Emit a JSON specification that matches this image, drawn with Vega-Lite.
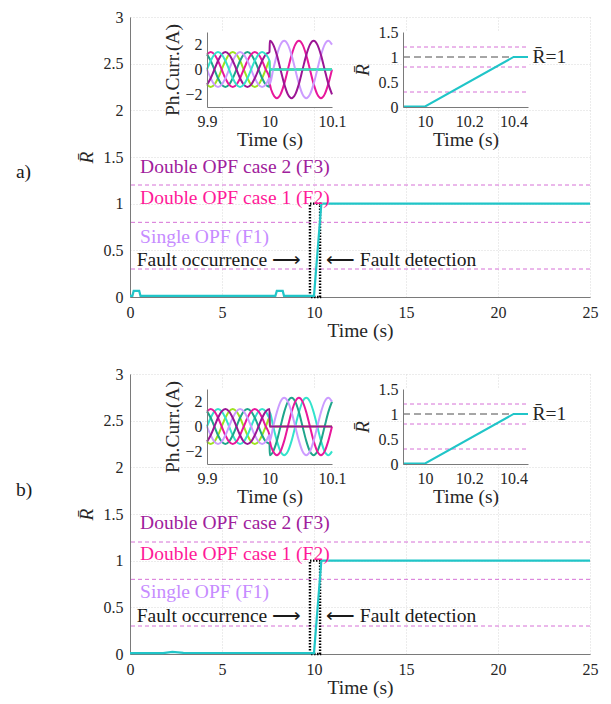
{
"$schema": "https://vega.github.io/schema/vega-lite/v6.json",
"padding": {"left": 15, "top": 9, "right": 5, "bottom": 5},
"spacing": 26,
"config": {
  "font": "Liberation Serif",
  "view": {"stroke": null},
  "axis": {"labelFont": "Liberation Serif", "labelFontSize": 16, "labelColor": "#262626", "titleFont": "Liberation Serif", "titleFontSize": 19.5, "titleFontWeight": "normal", "titleColor": "#262626", "domainColor": "#7a7a7a", "domainWidth": 1, "ticks": false, "gridColor": "#d9d9d9", "gridDash": [1, 2], "labelFlush": false, "labelOverlap": false},
  "text": {"font": "Liberation Serif"}
},
"datasets": {
  "curA": [
{"t":9.9,"p":"G","y":-1.21},{"t":9.9059,"p":"G","y":-1.4},{"t":9.9118,"p":"G","y":-1.21},{"t":9.9176,"p":"G","y":-0.7},{"t":9.9235,"p":"G","y":0},{"t":9.9294,"p":"G","y":0.7},{"t":9.9353,"p":"G","y":1.21},{"t":9.9412,"p":"G","y":1.4},{"t":9.9471,"p":"G","y":1.21},{"t":9.9529,"p":"G","y":0.7},{"t":9.9588,"p":"G","y":0},{"t":9.9647,"p":"G","y":-0.7},{"t":9.9706,"p":"G","y":-1.21},{"t":9.9765,"p":"G","y":-1.4},{"t":9.9824,"p":"G","y":-1.21},{"t":9.9882,"p":"G","y":-0.7},{"t":9.9941,"p":"G","y":0},{"t":10,"p":"G","y":0.7},{"t":10.0005,"p":"G","y":0},{"t":10.1,"p":"G","y":0},
{"t":9.9,"p":"T","y":1.21},{"t":9.9059,"p":"T","y":0.7},{"t":9.9118,"p":"T","y":0},{"t":9.9176,"p":"T","y":-0.7},{"t":9.9235,"p":"T","y":-1.21},{"t":9.9294,"p":"T","y":-1.4},{"t":9.9353,"p":"T","y":-1.21},{"t":9.9412,"p":"T","y":-0.7},{"t":9.9471,"p":"T","y":0},{"t":9.9529,"p":"T","y":0.7},{"t":9.9588,"p":"T","y":1.21},{"t":9.9647,"p":"T","y":1.4},{"t":9.9706,"p":"T","y":1.21},{"t":9.9765,"p":"T","y":0.7},{"t":9.9824,"p":"T","y":0},{"t":9.9882,"p":"T","y":-0.7},{"t":9.9941,"p":"T","y":-1.21},{"t":10,"p":"T","y":-1.4},{"t":10.0005,"p":"T","y":0},{"t":10.1,"p":"T","y":0},
{"t":9.9,"p":"K","y":1.21},{"t":9.9059,"p":"K","y":1.4},{"t":9.9118,"p":"K","y":1.21},{"t":9.9176,"p":"K","y":0.7},{"t":9.9235,"p":"K","y":0},{"t":9.9294,"p":"K","y":-0.7},{"t":9.9353,"p":"K","y":-1.21},{"t":9.9412,"p":"K","y":-1.4},{"t":9.9471,"p":"K","y":-1.21},{"t":9.9529,"p":"K","y":-0.7},{"t":9.9588,"p":"K","y":0},{"t":9.9647,"p":"K","y":0.7},{"t":9.9706,"p":"K","y":1.21},{"t":9.9765,"p":"K","y":1.4},{"t":9.9824,"p":"K","y":1.21},{"t":9.9882,"p":"K","y":0.7},{"t":9.9941,"p":"K","y":0},{"t":10,"p":"K","y":-0.7},
{"t":10.0005,"p":"K","y":-1.15},{"t":10.0059,"p":"K","y":-1.99},{"t":10.0118,"p":"K","y":-2.3},{"t":10.0176,"p":"K","y":-1.99},{"t":10.0235,"p":"K","y":-1.15},{"t":10.0294,"p":"K","y":0},{"t":10.0353,"p":"K","y":1.15},{"t":10.0412,"p":"K","y":1.99},{"t":10.0471,"p":"K","y":2.3},{"t":10.0529,"p":"K","y":1.99},{"t":10.0588,"p":"K","y":1.15},{"t":10.0647,"p":"K","y":0},{"t":10.0706,"p":"K","y":-1.15},{"t":10.0765,"p":"K","y":-1.99},{"t":10.0824,"p":"K","y":-2.3},{"t":10.0882,"p":"K","y":-1.99},{"t":10.0941,"p":"K","y":-1.15},{"t":10.1,"p":"K","y":0},
{"t":9.9,"p":"L","y":0},{"t":9.9059,"p":"L","y":-0.7},{"t":9.9118,"p":"L","y":-1.21},{"t":9.9176,"p":"L","y":-1.4},{"t":9.9235,"p":"L","y":-1.21},{"t":9.9294,"p":"L","y":-0.7},{"t":9.9353,"p":"L","y":0},{"t":9.9412,"p":"L","y":0.7},{"t":9.9471,"p":"L","y":1.21},{"t":9.9529,"p":"L","y":1.4},{"t":9.9588,"p":"L","y":1.21},{"t":9.9647,"p":"L","y":0.7},{"t":9.9706,"p":"L","y":0},{"t":9.9765,"p":"L","y":-0.7},{"t":9.9824,"p":"L","y":-1.21},{"t":9.9882,"p":"L","y":-1.4},{"t":9.9941,"p":"L","y":-1.21},{"t":10,"p":"L","y":-0.7},
{"t":10.0005,"p":"L","y":-1.15},{"t":10.0059,"p":"L","y":0},{"t":10.0118,"p":"L","y":1.15},{"t":10.0176,"p":"L","y":1.99},{"t":10.0235,"p":"L","y":2.3},{"t":10.0294,"p":"L","y":1.99},{"t":10.0353,"p":"L","y":1.15},{"t":10.0412,"p":"L","y":0},{"t":10.0471,"p":"L","y":-1.15},{"t":10.0529,"p":"L","y":-1.99},{"t":10.0588,"p":"L","y":-2.3},{"t":10.0647,"p":"L","y":-1.99},{"t":10.0706,"p":"L","y":-1.15},{"t":10.0765,"p":"L","y":0},{"t":10.0824,"p":"L","y":1.15},{"t":10.0882,"p":"L","y":1.99},{"t":10.0941,"p":"L","y":2.3},{"t":10.1,"p":"L","y":1.99},
{"t":9.9,"p":"P","y":-1.21},{"t":9.9059,"p":"P","y":-0.7},{"t":9.9118,"p":"P","y":0},{"t":9.9176,"p":"P","y":0.7},{"t":9.9235,"p":"P","y":1.21},{"t":9.9294,"p":"P","y":1.4},{"t":9.9353,"p":"P","y":1.21},{"t":9.9412,"p":"P","y":0.7},{"t":9.9471,"p":"P","y":0},{"t":9.9529,"p":"P","y":-0.7},{"t":9.9588,"p":"P","y":-1.21},{"t":9.9647,"p":"P","y":-1.4},{"t":9.9706,"p":"P","y":-1.21},{"t":9.9765,"p":"P","y":-0.7},{"t":9.9824,"p":"P","y":0},{"t":9.9882,"p":"P","y":0.7},{"t":9.9941,"p":"P","y":1.21},{"t":10,"p":"P","y":1.4},
{"t":10.0005,"p":"P","y":2.3},{"t":10.0059,"p":"P","y":1.99},{"t":10.0118,"p":"P","y":1.15},{"t":10.0176,"p":"P","y":0},{"t":10.0235,"p":"P","y":-1.15},{"t":10.0294,"p":"P","y":-1.99},{"t":10.0353,"p":"P","y":-2.3},{"t":10.0412,"p":"P","y":-1.99},{"t":10.0471,"p":"P","y":-1.15},{"t":10.0529,"p":"P","y":0},{"t":10.0588,"p":"P","y":1.15},{"t":10.0647,"p":"P","y":1.99},{"t":10.0706,"p":"P","y":2.3},{"t":10.0765,"p":"P","y":1.99},{"t":10.0824,"p":"P","y":1.15},{"t":10.0882,"p":"P","y":0},{"t":10.0941,"p":"P","y":-1.15},{"t":10.1,"p":"P","y":-1.99},
{"t":9.9,"p":"A","y":0},{"t":9.9059,"p":"A","y":0.7},{"t":9.9118,"p":"A","y":1.21},{"t":9.9176,"p":"A","y":1.4},{"t":9.9235,"p":"A","y":1.21},{"t":9.9294,"p":"A","y":0.7},{"t":9.9353,"p":"A","y":0},{"t":9.9412,"p":"A","y":-0.7},{"t":9.9471,"p":"A","y":-1.21},{"t":9.9529,"p":"A","y":-1.4},{"t":9.9588,"p":"A","y":-1.21},{"t":9.9647,"p":"A","y":-0.7},{"t":9.9706,"p":"A","y":0},{"t":9.9765,"p":"A","y":0.7},{"t":9.9824,"p":"A","y":1.21},{"t":9.9882,"p":"A","y":1.4},{"t":9.9941,"p":"A","y":1.21},{"t":10,"p":"A","y":0.7},{"t":10.0005,"p":"A","y":0},{"t":10.1,"p":"A","y":0}
  ],
  "curB": [
{"t":9.9,"p":"G","y":-1.21},{"t":9.9059,"p":"G","y":-1.4},{"t":9.9118,"p":"G","y":-1.21},{"t":9.9176,"p":"G","y":-0.7},{"t":9.9235,"p":"G","y":0},{"t":9.9294,"p":"G","y":0.7},{"t":9.9353,"p":"G","y":1.21},{"t":9.9412,"p":"G","y":1.4},{"t":9.9471,"p":"G","y":1.21},{"t":9.9529,"p":"G","y":0.7},{"t":9.9588,"p":"G","y":0},{"t":9.9647,"p":"G","y":-0.7},{"t":9.9706,"p":"G","y":-1.21},{"t":9.9765,"p":"G","y":-1.4},{"t":9.9824,"p":"G","y":-1.21},{"t":9.9882,"p":"G","y":-0.7},{"t":9.9941,"p":"G","y":0},{"t":10,"p":"G","y":0.7},{"t":10.0005,"p":"G","y":0},{"t":10.1,"p":"G","y":0},
{"t":9.9,"p":"A","y":0},{"t":9.9059,"p":"A","y":0.7},{"t":9.9118,"p":"A","y":1.21},{"t":9.9176,"p":"A","y":1.4},{"t":9.9235,"p":"A","y":1.21},{"t":9.9294,"p":"A","y":0.7},{"t":9.9353,"p":"A","y":0},{"t":9.9412,"p":"A","y":-0.7},{"t":9.9471,"p":"A","y":-1.21},{"t":9.9529,"p":"A","y":-1.4},{"t":9.9588,"p":"A","y":-1.21},{"t":9.9647,"p":"A","y":-0.7},{"t":9.9706,"p":"A","y":0},{"t":9.9765,"p":"A","y":0.7},{"t":9.9824,"p":"A","y":1.21},{"t":9.9882,"p":"A","y":1.4},{"t":9.9941,"p":"A","y":1.21},{"t":10,"p":"A","y":0.7},
{"t":10.0005,"p":"A","y":1.15},{"t":10.0059,"p":"A","y":0},{"t":10.0118,"p":"A","y":-1.15},{"t":10.0176,"p":"A","y":-1.99},{"t":10.0235,"p":"A","y":-2.3},{"t":10.0294,"p":"A","y":-1.99},{"t":10.0353,"p":"A","y":-1.15},{"t":10.0412,"p":"A","y":0},{"t":10.0471,"p":"A","y":1.15},{"t":10.0529,"p":"A","y":1.99},{"t":10.0588,"p":"A","y":2.3},{"t":10.0647,"p":"A","y":1.99},{"t":10.0706,"p":"A","y":1.15},{"t":10.0765,"p":"A","y":0},{"t":10.0824,"p":"A","y":-1.15},{"t":10.0882,"p":"A","y":-1.99},{"t":10.0941,"p":"A","y":-2.3},{"t":10.1,"p":"A","y":-1.99},
{"t":9.9,"p":"T","y":1.21},{"t":9.9059,"p":"T","y":0.7},{"t":9.9118,"p":"T","y":0},{"t":9.9176,"p":"T","y":-0.7},{"t":9.9235,"p":"T","y":-1.21},{"t":9.9294,"p":"T","y":-1.4},{"t":9.9353,"p":"T","y":-1.21},{"t":9.9412,"p":"T","y":-0.7},{"t":9.9471,"p":"T","y":0},{"t":9.9529,"p":"T","y":0.7},{"t":9.9588,"p":"T","y":1.21},{"t":9.9647,"p":"T","y":1.4},{"t":9.9706,"p":"T","y":1.21},{"t":9.9765,"p":"T","y":0.7},{"t":9.9824,"p":"T","y":0},{"t":9.9882,"p":"T","y":-0.7},{"t":9.9941,"p":"T","y":-1.21},{"t":10,"p":"T","y":-1.4},
{"t":10.0005,"p":"T","y":-2.3},{"t":10.0059,"p":"T","y":-1.99},{"t":10.0118,"p":"T","y":-1.15},{"t":10.0176,"p":"T","y":0},{"t":10.0235,"p":"T","y":1.15},{"t":10.0294,"p":"T","y":1.99},{"t":10.0353,"p":"T","y":2.3},{"t":10.0412,"p":"T","y":1.99},{"t":10.0471,"p":"T","y":1.15},{"t":10.0529,"p":"T","y":0},{"t":10.0588,"p":"T","y":-1.15},{"t":10.0647,"p":"T","y":-1.99},{"t":10.0706,"p":"T","y":-2.3},{"t":10.0765,"p":"T","y":-1.99},{"t":10.0824,"p":"T","y":-1.15},{"t":10.0882,"p":"T","y":0},{"t":10.0941,"p":"T","y":1.15},{"t":10.1,"p":"T","y":1.99},
{"t":9.9,"p":"K","y":1.21},{"t":9.9059,"p":"K","y":1.4},{"t":9.9118,"p":"K","y":1.21},{"t":9.9176,"p":"K","y":0.7},{"t":9.9235,"p":"K","y":0},{"t":9.9294,"p":"K","y":-0.7},{"t":9.9353,"p":"K","y":-1.21},{"t":9.9412,"p":"K","y":-1.4},{"t":9.9471,"p":"K","y":-1.21},{"t":9.9529,"p":"K","y":-0.7},{"t":9.9588,"p":"K","y":0},{"t":9.9647,"p":"K","y":0.7},{"t":9.9706,"p":"K","y":1.21},{"t":9.9765,"p":"K","y":1.4},{"t":9.9824,"p":"K","y":1.21},{"t":9.9882,"p":"K","y":0.7},{"t":9.9941,"p":"K","y":0},{"t":10,"p":"K","y":-0.7},
{"t":10.0005,"p":"K","y":-1.15},{"t":10.0059,"p":"K","y":-1.99},{"t":10.0118,"p":"K","y":-2.3},{"t":10.0176,"p":"K","y":-1.99},{"t":10.0235,"p":"K","y":-1.15},{"t":10.0294,"p":"K","y":0},{"t":10.0353,"p":"K","y":1.15},{"t":10.0412,"p":"K","y":1.99},{"t":10.0471,"p":"K","y":2.3},{"t":10.0529,"p":"K","y":1.99},{"t":10.0588,"p":"K","y":1.15},{"t":10.0647,"p":"K","y":0},{"t":10.0706,"p":"K","y":-1.15},{"t":10.0765,"p":"K","y":-1.99},{"t":10.0824,"p":"K","y":-2.3},{"t":10.0882,"p":"K","y":-1.99},{"t":10.0941,"p":"K","y":-1.15},{"t":10.1,"p":"K","y":0},
{"t":9.9,"p":"L","y":0},{"t":9.9059,"p":"L","y":-0.7},{"t":9.9118,"p":"L","y":-1.21},{"t":9.9176,"p":"L","y":-1.4},{"t":9.9235,"p":"L","y":-1.21},{"t":9.9294,"p":"L","y":-0.7},{"t":9.9353,"p":"L","y":0},{"t":9.9412,"p":"L","y":0.7},{"t":9.9471,"p":"L","y":1.21},{"t":9.9529,"p":"L","y":1.4},{"t":9.9588,"p":"L","y":1.21},{"t":9.9647,"p":"L","y":0.7},{"t":9.9706,"p":"L","y":0},{"t":9.9765,"p":"L","y":-0.7},{"t":9.9824,"p":"L","y":-1.21},{"t":9.9882,"p":"L","y":-1.4},{"t":9.9941,"p":"L","y":-1.21},{"t":10,"p":"L","y":-0.7},
{"t":10.0005,"p":"L","y":-1.15},{"t":10.0059,"p":"L","y":0},{"t":10.0118,"p":"L","y":1.15},{"t":10.0176,"p":"L","y":1.99},{"t":10.0235,"p":"L","y":2.3},{"t":10.0294,"p":"L","y":1.99},{"t":10.0353,"p":"L","y":1.15},{"t":10.0412,"p":"L","y":0},{"t":10.0471,"p":"L","y":-1.15},{"t":10.0529,"p":"L","y":-1.99},{"t":10.0588,"p":"L","y":-2.3},{"t":10.0647,"p":"L","y":-1.99},{"t":10.0706,"p":"L","y":-1.15},{"t":10.0765,"p":"L","y":0},{"t":10.0824,"p":"L","y":1.15},{"t":10.0882,"p":"L","y":1.99},{"t":10.0941,"p":"L","y":2.3},{"t":10.1,"p":"L","y":1.99},
{"t":9.9,"p":"P","y":-1.21},{"t":9.9059,"p":"P","y":-0.7},{"t":9.9118,"p":"P","y":0},{"t":9.9176,"p":"P","y":0.7},{"t":9.9235,"p":"P","y":1.21},{"t":9.9294,"p":"P","y":1.4},{"t":9.9353,"p":"P","y":1.21},{"t":9.9412,"p":"P","y":0.7},{"t":9.9471,"p":"P","y":0},{"t":9.9529,"p":"P","y":-0.7},{"t":9.9588,"p":"P","y":-1.21},{"t":9.9647,"p":"P","y":-1.4},{"t":9.9706,"p":"P","y":-1.21},{"t":9.9765,"p":"P","y":-0.7},{"t":9.9824,"p":"P","y":0},{"t":9.9882,"p":"P","y":0.7},{"t":9.9941,"p":"P","y":1.21},{"t":10,"p":"P","y":1.4},{"t":10.0005,"p":"P","y":0},{"t":10.1,"p":"P","y":0}
  ]
},
"vconcat": [
 {
  "width": 460, "height": 280,
  "resolve": {"scale": {"x": "independent", "y": "independent", "color": "independent"}},
  "layer": [
   {"layer": [
     {"data": {"values": [{"y": 1.2}, {"y": 0.8}, {"y": 0.3}]},
      "mark": {"type": "rule", "color": "#d670d6", "strokeDash": [4, 3], "strokeWidth": 1},
      "encoding": {"y": {"field": "y", "type": "quantitative", "scale": {"domain": [0, 3], "nice": false}, "axis": {"title": "R\u0304", "values": [0, 0.5, 1, 1.5, 2, 2.5, 3], "format": "~g", "grid": true, "labelPadding": 7, "titlePadding": 7, "titleFontStyle": "italic"}}}},
     {"data": {"values": [{"t": 9.78, "t2": 10.33, "y": 0, "y2": 1}]},
      "mark": {"type": "rect", "filled": false, "color": "#000000", "strokeWidth": 2.4, "strokeDash": [1.5, 1.5]},
      "encoding": {
        "x": {"field": "t", "type": "quantitative", "scale": {"domain": [0, 25], "nice": false}, "axis": {"title": "Time (s)", "values": [0, 5, 10, 15, 20, 25], "format": "~g", "grid": true, "labelPadding": 7, "titlePadding": 1}},
        "x2": {"field": "t2"},
        "y": {"field": "y", "type": "quantitative", "scale": {"domain": [0, 3], "nice": false}, "axis": {"title": "R\u0304", "values": [0, 0.5, 1, 1.5, 2, 2.5, 3], "format": "~g", "grid": true, "labelPadding": 7, "titlePadding": 7, "titleFontStyle": "italic"}},
        "y2": {"field": "y2"}}},
     {"data": {"values": [{"t": 0, "y": 0.012}, {"t": 0.13, "y": 0.012}, {"t": 0.2, "y": 0.065}, {"t": 0.5, "y": 0.065}, {"t": 0.57, "y": 0.012}, {"t": 7.9, "y": 0.012}, {"t": 7.98, "y": 0.065}, {"t": 8.3, "y": 0.065}, {"t": 8.37, "y": 0.012}, {"t": 10, "y": 0.012}, {"t": 10.4, "y": 1}, {"t": 25, "y": 1}]},
      "mark": {"type": "line", "color": "#20c5c8", "strokeWidth": 2.2},
      "encoding": {
        "x": {"field": "t", "type": "quantitative", "scale": {"domain": [0, 25], "nice": false}, "axis": {"title": "Time (s)", "values": [0, 5, 10, 15, 20, 25], "format": "~g", "grid": true, "labelPadding": 7, "titlePadding": 1}},
        "y": {"field": "y", "type": "quantitative", "scale": {"domain": [0, 3], "nice": false}, "axis": {"title": "R\u0304", "values": [0, 0.5, 1, 1.5, 2, 2.5, 3], "format": "~g", "grid": true, "labelPadding": 7, "titlePadding": 7, "titleFontStyle": "italic"}}}},
     {"data": {"values": [{"t": 0.55, "y": 1.39, "s": "Double OPF case 2 (F3)", "k": "F3"}, {"t": 0.55, "y": 1.06, "s": "Double OPF case 1 (F2)", "k": "F2"}, {"t": 0.55, "y": 0.645, "s": "Single OPF (F1)", "k": "F1"}, {"t": 10.65, "y": 0.4, "s": "\u27f5 Fault detection", "k": "K"}, {"t": -6.2, "y": 1.34, "s": "a)", "k": "K"}]},
      "mark": {"type": "text", "align": "left", "baseline": "middle", "fontSize": 19.5},
      "encoding": {
        "x": {"field": "t", "type": "quantitative", "scale": {"domain": [0, 25], "nice": false}, "axis": {"title": "Time (s)", "values": [0, 5, 10, 15, 20, 25], "format": "~g", "grid": true, "labelPadding": 7, "titlePadding": 1}},
        "y": {"field": "y", "type": "quantitative", "scale": {"domain": [0, 3], "nice": false}, "axis": {"title": "R\u0304", "values": [0, 0.5, 1, 1.5, 2, 2.5, 3], "format": "~g", "grid": true, "labelPadding": 7, "titlePadding": 7, "titleFontStyle": "italic"}},
        "text": {"field": "s"},
        "color": {"field": "k", "type": "nominal", "scale": {"domain": ["F3", "F2", "F1", "K"], "range": ["#a0209c", "#ff1a98", "#c68cff", "#1a1a1a"]}, "legend": null}}},
     {"data": {"values": [{"t": 9.3, "y": 0.4, "s": "Fault occurrence \u27f6", "k": "K"}]},
      "mark": {"type": "text", "align": "right", "baseline": "middle", "fontSize": 19.5},
      "encoding": {
        "x": {"field": "t", "type": "quantitative", "scale": {"domain": [0, 25], "nice": false}, "axis": {"title": "Time (s)", "values": [0, 5, 10, 15, 20, 25], "format": "~g", "grid": true, "labelPadding": 7, "titlePadding": 1}},
        "y": {"field": "y", "type": "quantitative", "scale": {"domain": [0, 3], "nice": false}, "axis": {"title": "R\u0304", "values": [0, 0.5, 1, 1.5, 2, 2.5, 3], "format": "~g", "grid": true, "labelPadding": 7, "titlePadding": 7, "titleFontStyle": "italic"}},
        "text": {"field": "s"},
        "color": {"field": "k", "type": "nominal", "scale": {"domain": ["F3", "F2", "F1", "K"], "range": ["#a0209c", "#ff1a98", "#c68cff", "#1a1a1a"]}, "legend": null}}}
   ]},
   {"layer": [
     {"data": {"values": [{"t": 9.9, "t2": 10.1, "y": -3, "y2": 3}]},
      "mark": {"type": "rect", "color": "#ffffff"},
      "encoding": {
        "x": {"field": "t", "type": "quantitative", "scale": {"domain": [9.9, 10.1], "range": [77, 202], "nice": false, "zero": false}, "axis": {"title": "Time (s)", "values": [9.9, 10, 10.1], "format": "~g", "orient": "bottom", "offset": -190, "zindex": 1, "grid": false, "labelPadding": 6, "titlePadding": 1}},
        "x2": {"field": "t2"},
        "y": {"field": "y", "type": "quantitative", "scale": {"domain": [-3, 3], "range": [90, 15], "nice": false, "zero": false}, "axis": {"title": "Ph.Curr.(A)", "values": [-2, 0, 2], "format": "~g", "orient": "left", "offset": -77, "zindex": 1, "grid": false, "labelPadding": 5, "titlePadding": 2}},
        "y2": {"field": "y2"}}},
     {"data": {"name": "curA"},
      "mark": {"type": "line", "strokeWidth": 2, "interpolate": "monotone"},
      "encoding": {
        "x": {"field": "t", "type": "quantitative", "scale": {"domain": [9.9, 10.1], "range": [77, 202], "nice": false, "zero": false}, "axis": {"title": "Time (s)", "values": [9.9, 10, 10.1], "format": "~g", "orient": "bottom", "offset": -190, "zindex": 1, "grid": false, "labelPadding": 6, "titlePadding": 1}},
        "y": {"field": "y", "type": "quantitative", "scale": {"domain": [-3, 3], "range": [90, 15], "nice": false, "zero": false}, "axis": {"title": "Ph.Curr.(A)", "values": [-2, 0, 2], "format": "~g", "orient": "left", "offset": -77, "zindex": 1, "grid": false, "labelPadding": 5, "titlePadding": 2}},
        "color": {"field": "p", "type": "nominal", "scale": {"domain": ["G", "T", "K", "L", "P", "A"], "range": ["#9ee31f", "#1fa58b", "#e8179b", "#cc9cff", "#9b1694", "#33e3cc"]}, "legend": null}}}
   ]},
   {"layer": [
     {"data": {"values": [{"t": 9.9, "t2": 10.465, "y": 0, "y2": 1.5}]},
      "mark": {"type": "rect", "color": "#ffffff"},
      "encoding": {
        "x": {"field": "t", "type": "quantitative", "scale": {"domain": [9.9, 10.465], "range": [273, 398], "nice": false, "zero": false}, "axis": {"title": "Time (s)", "values": [10, 10.2, 10.4], "format": "~g", "orient": "bottom", "offset": -190, "zindex": 1, "grid": false, "labelPadding": 6, "titlePadding": 1}},
        "x2": {"field": "t2"},
        "y": {"field": "y", "type": "quantitative", "scale": {"domain": [0, 1.5], "range": [90, 15], "nice": false, "zero": false}, "axis": {"title": "R\u0304", "titleFontStyle": "italic", "values": [0, 0.5, 1, 1.5], "format": "~g", "orient": "left", "offset": -273, "zindex": 1, "grid": false, "labelPadding": 5, "titlePadding": 6}},
        "y2": {"field": "y2"}}},
     {"data": {"values": [{"t": 9.9, "t2": 10.465, "y": 1.2}, {"t": 9.9, "t2": 10.465, "y": 0.8}, {"t": 9.9, "t2": 10.465, "y": 0.3}]},
      "mark": {"type": "rule", "color": "#d670d6", "strokeDash": [4, 3], "strokeWidth": 1},
      "encoding": {
        "x": {"field": "t", "type": "quantitative", "scale": {"domain": [9.9, 10.465], "range": [273, 398], "nice": false, "zero": false}, "axis": {"title": "Time (s)", "values": [10, 10.2, 10.4], "format": "~g", "orient": "bottom", "offset": -190, "zindex": 1, "grid": false, "labelPadding": 6, "titlePadding": 1}},
        "x2": {"field": "t2"},
        "y": {"field": "y", "type": "quantitative", "scale": {"domain": [0, 1.5], "range": [90, 15], "nice": false, "zero": false}, "axis": {"title": "R\u0304", "titleFontStyle": "italic", "values": [0, 0.5, 1, 1.5], "format": "~g", "orient": "left", "offset": -273, "zindex": 1, "grid": false, "labelPadding": 5, "titlePadding": 6}}}},
     {"data": {"values": [{"t": 9.9, "t2": 10.465, "y": 1}]},
      "mark": {"type": "rule", "color": "#4d4d4d", "strokeDash": [7, 4], "strokeWidth": 1},
      "encoding": {
        "x": {"field": "t", "type": "quantitative", "scale": {"domain": [9.9, 10.465], "range": [273, 398], "nice": false, "zero": false}, "axis": {"title": "Time (s)", "values": [10, 10.2, 10.4], "format": "~g", "orient": "bottom", "offset": -190, "zindex": 1, "grid": false, "labelPadding": 6, "titlePadding": 1}},
        "x2": {"field": "t2"},
        "y": {"field": "y", "type": "quantitative", "scale": {"domain": [0, 1.5], "range": [90, 15], "nice": false, "zero": false}, "axis": {"title": "R\u0304", "titleFontStyle": "italic", "values": [0, 0.5, 1, 1.5], "format": "~g", "orient": "left", "offset": -273, "zindex": 1, "grid": false, "labelPadding": 5, "titlePadding": 6}}}},
     {"data": {"values": [{"t": 9.9, "y": 0.012}, {"t": 10, "y": 0.012}, {"t": 10.4, "y": 1}, {"t": 10.465, "y": 1}]},
      "mark": {"type": "line", "color": "#20c5c8", "strokeWidth": 2},
      "encoding": {
        "x": {"field": "t", "type": "quantitative", "scale": {"domain": [9.9, 10.465], "range": [273, 398], "nice": false, "zero": false}, "axis": {"title": "Time (s)", "values": [10, 10.2, 10.4], "format": "~g", "orient": "bottom", "offset": -190, "zindex": 1, "grid": false, "labelPadding": 6, "titlePadding": 1}},
        "y": {"field": "y", "type": "quantitative", "scale": {"domain": [0, 1.5], "range": [90, 15], "nice": false, "zero": false}, "axis": {"title": "R\u0304", "titleFontStyle": "italic", "values": [0, 0.5, 1, 1.5], "format": "~g", "orient": "left", "offset": -273, "zindex": 1, "grid": false, "labelPadding": 5, "titlePadding": 6}}}},
     {"data": {"values": [{"t": 10.485, "y": 1, "s": "R\u0304=1"}]},
      "mark": {"type": "text", "align": "left", "baseline": "middle", "fontSize": 19.5, "color": "#262626"},
      "encoding": {
        "x": {"field": "t", "type": "quantitative", "scale": {"domain": [9.9, 10.465], "range": [273, 398], "nice": false, "zero": false}, "axis": {"title": "Time (s)", "values": [10, 10.2, 10.4], "format": "~g", "orient": "bottom", "offset": -190, "zindex": 1, "grid": false, "labelPadding": 6, "titlePadding": 1}},
        "y": {"field": "y", "type": "quantitative", "scale": {"domain": [0, 1.5], "range": [90, 15], "nice": false, "zero": false}, "axis": {"title": "R\u0304", "titleFontStyle": "italic", "values": [0, 0.5, 1, 1.5], "format": "~g", "orient": "left", "offset": -273, "zindex": 1, "grid": false, "labelPadding": 5, "titlePadding": 6}},
        "text": {"field": "s"}}}
   ]}
  ]
 },
 {
  "width": 460, "height": 280,
  "resolve": {"scale": {"x": "independent", "y": "independent", "color": "independent"}},
  "layer": [
   {"layer": [
     {"data": {"values": [{"y": 1.2}, {"y": 0.8}, {"y": 0.3}]},
      "mark": {"type": "rule", "color": "#d670d6", "strokeDash": [4, 3], "strokeWidth": 1},
      "encoding": {"y": {"field": "y", "type": "quantitative", "scale": {"domain": [0, 3], "nice": false}, "axis": {"title": "R\u0304", "values": [0, 0.5, 1, 1.5, 2, 2.5, 3], "format": "~g", "grid": true, "labelPadding": 7, "titlePadding": 7, "titleFontStyle": "italic"}}}},
     {"data": {"values": [{"t": 9.78, "t2": 10.33, "y": 0, "y2": 1}]},
      "mark": {"type": "rect", "filled": false, "color": "#000000", "strokeWidth": 2.4, "strokeDash": [1.5, 1.5]},
      "encoding": {
        "x": {"field": "t", "type": "quantitative", "scale": {"domain": [0, 25], "nice": false}, "axis": {"title": "Time (s)", "values": [0, 5, 10, 15, 20, 25], "format": "~g", "grid": true, "labelPadding": 7, "titlePadding": 1}},
        "x2": {"field": "t2"},
        "y": {"field": "y", "type": "quantitative", "scale": {"domain": [0, 3], "nice": false}, "axis": {"title": "R\u0304", "values": [0, 0.5, 1, 1.5, 2, 2.5, 3], "format": "~g", "grid": true, "labelPadding": 7, "titlePadding": 7, "titleFontStyle": "italic"}},
        "y2": {"field": "y2"}}},
     {"data": {"values": [{"t": 0, "y": 0.01}, {"t": 1.8, "y": 0.01}, {"t": 2.3, "y": 0.022}, {"t": 2.9, "y": 0.012}, {"t": 10, "y": 0.01}, {"t": 10.4, "y": 1}, {"t": 25, "y": 1}]},
      "mark": {"type": "line", "color": "#20c5c8", "strokeWidth": 2.2},
      "encoding": {
        "x": {"field": "t", "type": "quantitative", "scale": {"domain": [0, 25], "nice": false}, "axis": {"title": "Time (s)", "values": [0, 5, 10, 15, 20, 25], "format": "~g", "grid": true, "labelPadding": 7, "titlePadding": 1}},
        "y": {"field": "y", "type": "quantitative", "scale": {"domain": [0, 3], "nice": false}, "axis": {"title": "R\u0304", "values": [0, 0.5, 1, 1.5, 2, 2.5, 3], "format": "~g", "grid": true, "labelPadding": 7, "titlePadding": 7, "titleFontStyle": "italic"}}}},
     {"data": {"values": [{"t": 0.55, "y": 1.4, "s": "Double OPF case 2 (F3)", "k": "F3"}, {"t": 0.55, "y": 1.07, "s": "Double OPF case 1 (F2)", "k": "F2"}, {"t": 0.55, "y": 0.66, "s": "Single OPF (F1)", "k": "F1"}, {"t": 10.65, "y": 0.41, "s": "\u27f5 Fault detection", "k": "K"}, {"t": -6.2, "y": 1.76, "s": "b)", "k": "K"}]},
      "mark": {"type": "text", "align": "left", "baseline": "middle", "fontSize": 19.5},
      "encoding": {
        "x": {"field": "t", "type": "quantitative", "scale": {"domain": [0, 25], "nice": false}, "axis": {"title": "Time (s)", "values": [0, 5, 10, 15, 20, 25], "format": "~g", "grid": true, "labelPadding": 7, "titlePadding": 1}},
        "y": {"field": "y", "type": "quantitative", "scale": {"domain": [0, 3], "nice": false}, "axis": {"title": "R\u0304", "values": [0, 0.5, 1, 1.5, 2, 2.5, 3], "format": "~g", "grid": true, "labelPadding": 7, "titlePadding": 7, "titleFontStyle": "italic"}},
        "text": {"field": "s"},
        "color": {"field": "k", "type": "nominal", "scale": {"domain": ["F3", "F2", "F1", "K"], "range": ["#a0209c", "#ff1a98", "#c68cff", "#1a1a1a"]}, "legend": null}}},
     {"data": {"values": [{"t": 9.3, "y": 0.41, "s": "Fault occurrence \u27f6", "k": "K"}]},
      "mark": {"type": "text", "align": "right", "baseline": "middle", "fontSize": 19.5},
      "encoding": {
        "x": {"field": "t", "type": "quantitative", "scale": {"domain": [0, 25], "nice": false}, "axis": {"title": "Time (s)", "values": [0, 5, 10, 15, 20, 25], "format": "~g", "grid": true, "labelPadding": 7, "titlePadding": 1}},
        "y": {"field": "y", "type": "quantitative", "scale": {"domain": [0, 3], "nice": false}, "axis": {"title": "R\u0304", "values": [0, 0.5, 1, 1.5, 2, 2.5, 3], "format": "~g", "grid": true, "labelPadding": 7, "titlePadding": 7, "titleFontStyle": "italic"}},
        "text": {"field": "s"},
        "color": {"field": "k", "type": "nominal", "scale": {"domain": ["F3", "F2", "F1", "K"], "range": ["#a0209c", "#ff1a98", "#c68cff", "#1a1a1a"]}, "legend": null}}}
   ]},
   {"layer": [
     {"data": {"values": [{"t": 9.9, "t2": 10.1, "y": -3, "y2": 3}]},
      "mark": {"type": "rect", "color": "#ffffff"},
      "encoding": {
        "x": {"field": "t", "type": "quantitative", "scale": {"domain": [9.9, 10.1], "range": [77, 202], "nice": false, "zero": false}, "axis": {"title": "Time (s)", "values": [9.9, 10, 10.1], "format": "~g", "orient": "bottom", "offset": -190, "zindex": 1, "grid": false, "labelPadding": 6, "titlePadding": 1}},
        "x2": {"field": "t2"},
        "y": {"field": "y", "type": "quantitative", "scale": {"domain": [-3, 3], "range": [90, 15], "nice": false, "zero": false}, "axis": {"title": "Ph.Curr.(A)", "values": [-2, 0, 2], "format": "~g", "orient": "left", "offset": -77, "zindex": 1, "grid": false, "labelPadding": 5, "titlePadding": 2}},
        "y2": {"field": "y2"}}},
     {"data": {"name": "curB"},
      "mark": {"type": "line", "strokeWidth": 2, "interpolate": "monotone"},
      "encoding": {
        "x": {"field": "t", "type": "quantitative", "scale": {"domain": [9.9, 10.1], "range": [77, 202], "nice": false, "zero": false}, "axis": {"title": "Time (s)", "values": [9.9, 10, 10.1], "format": "~g", "orient": "bottom", "offset": -190, "zindex": 1, "grid": false, "labelPadding": 6, "titlePadding": 1}},
        "y": {"field": "y", "type": "quantitative", "scale": {"domain": [-3, 3], "range": [90, 15], "nice": false, "zero": false}, "axis": {"title": "Ph.Curr.(A)", "values": [-2, 0, 2], "format": "~g", "orient": "left", "offset": -77, "zindex": 1, "grid": false, "labelPadding": 5, "titlePadding": 2}},
        "color": {"field": "p", "type": "nominal", "scale": {"domain": ["G", "T", "K", "L", "P", "A"], "range": ["#9ee31f", "#1fa58b", "#e8179b", "#cc9cff", "#9b1694", "#33e3cc"]}, "legend": null}}}
   ]},
   {"layer": [
     {"data": {"values": [{"t": 9.9, "t2": 10.465, "y": 0, "y2": 1.5}]},
      "mark": {"type": "rect", "color": "#ffffff"},
      "encoding": {
        "x": {"field": "t", "type": "quantitative", "scale": {"domain": [9.9, 10.465], "range": [273, 398], "nice": false, "zero": false}, "axis": {"title": "Time (s)", "values": [10, 10.2, 10.4], "format": "~g", "orient": "bottom", "offset": -190, "zindex": 1, "grid": false, "labelPadding": 6, "titlePadding": 1}},
        "x2": {"field": "t2"},
        "y": {"field": "y", "type": "quantitative", "scale": {"domain": [0, 1.5], "range": [90, 15], "nice": false, "zero": false}, "axis": {"title": "R\u0304", "titleFontStyle": "italic", "values": [0, 0.5, 1, 1.5], "format": "~g", "orient": "left", "offset": -273, "zindex": 1, "grid": false, "labelPadding": 5, "titlePadding": 6}},
        "y2": {"field": "y2"}}},
     {"data": {"values": [{"t": 9.9, "t2": 10.465, "y": 1.2}, {"t": 9.9, "t2": 10.465, "y": 0.8}, {"t": 9.9, "t2": 10.465, "y": 0.3}]},
      "mark": {"type": "rule", "color": "#d670d6", "strokeDash": [4, 3], "strokeWidth": 1},
      "encoding": {
        "x": {"field": "t", "type": "quantitative", "scale": {"domain": [9.9, 10.465], "range": [273, 398], "nice": false, "zero": false}, "axis": {"title": "Time (s)", "values": [10, 10.2, 10.4], "format": "~g", "orient": "bottom", "offset": -190, "zindex": 1, "grid": false, "labelPadding": 6, "titlePadding": 1}},
        "x2": {"field": "t2"},
        "y": {"field": "y", "type": "quantitative", "scale": {"domain": [0, 1.5], "range": [90, 15], "nice": false, "zero": false}, "axis": {"title": "R\u0304", "titleFontStyle": "italic", "values": [0, 0.5, 1, 1.5], "format": "~g", "orient": "left", "offset": -273, "zindex": 1, "grid": false, "labelPadding": 5, "titlePadding": 6}}}},
     {"data": {"values": [{"t": 9.9, "t2": 10.465, "y": 1}]},
      "mark": {"type": "rule", "color": "#4d4d4d", "strokeDash": [7, 4], "strokeWidth": 1},
      "encoding": {
        "x": {"field": "t", "type": "quantitative", "scale": {"domain": [9.9, 10.465], "range": [273, 398], "nice": false, "zero": false}, "axis": {"title": "Time (s)", "values": [10, 10.2, 10.4], "format": "~g", "orient": "bottom", "offset": -190, "zindex": 1, "grid": false, "labelPadding": 6, "titlePadding": 1}},
        "x2": {"field": "t2"},
        "y": {"field": "y", "type": "quantitative", "scale": {"domain": [0, 1.5], "range": [90, 15], "nice": false, "zero": false}, "axis": {"title": "R\u0304", "titleFontStyle": "italic", "values": [0, 0.5, 1, 1.5], "format": "~g", "orient": "left", "offset": -273, "zindex": 1, "grid": false, "labelPadding": 5, "titlePadding": 6}}}},
     {"data": {"values": [{"t": 9.9, "y": 0.012}, {"t": 10, "y": 0.012}, {"t": 10.4, "y": 1}, {"t": 10.465, "y": 1}]},
      "mark": {"type": "line", "color": "#20c5c8", "strokeWidth": 2},
      "encoding": {
        "x": {"field": "t", "type": "quantitative", "scale": {"domain": [9.9, 10.465], "range": [273, 398], "nice": false, "zero": false}, "axis": {"title": "Time (s)", "values": [10, 10.2, 10.4], "format": "~g", "orient": "bottom", "offset": -190, "zindex": 1, "grid": false, "labelPadding": 6, "titlePadding": 1}},
        "y": {"field": "y", "type": "quantitative", "scale": {"domain": [0, 1.5], "range": [90, 15], "nice": false, "zero": false}, "axis": {"title": "R\u0304", "titleFontStyle": "italic", "values": [0, 0.5, 1, 1.5], "format": "~g", "orient": "left", "offset": -273, "zindex": 1, "grid": false, "labelPadding": 5, "titlePadding": 6}}}},
     {"data": {"values": [{"t": 10.485, "y": 1, "s": "R\u0304=1"}]},
      "mark": {"type": "text", "align": "left", "baseline": "middle", "fontSize": 19.5, "color": "#262626"},
      "encoding": {
        "x": {"field": "t", "type": "quantitative", "scale": {"domain": [9.9, 10.465], "range": [273, 398], "nice": false, "zero": false}, "axis": {"title": "Time (s)", "values": [10, 10.2, 10.4], "format": "~g", "orient": "bottom", "offset": -190, "zindex": 1, "grid": false, "labelPadding": 6, "titlePadding": 1}},
        "y": {"field": "y", "type": "quantitative", "scale": {"domain": [0, 1.5], "range": [90, 15], "nice": false, "zero": false}, "axis": {"title": "R\u0304", "titleFontStyle": "italic", "values": [0, 0.5, 1, 1.5], "format": "~g", "orient": "left", "offset": -273, "zindex": 1, "grid": false, "labelPadding": 5, "titlePadding": 6}},
        "text": {"field": "s"}}}
   ]}
  ]
 }
]
}
